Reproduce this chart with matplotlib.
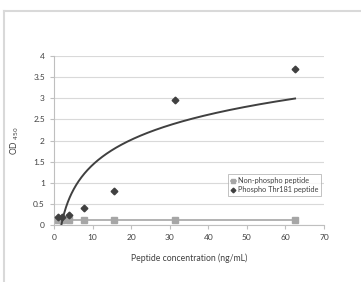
import numpy as np
import matplotlib
matplotlib.use("Agg")
import matplotlib.pyplot as plt
from matplotlib.lines import Line2D

conc = [0.98, 1.95, 3.9, 7.8, 15.6, 31.25, 62.5]
non_phospho = [0.11, 0.11, 0.11, 0.11, 0.11, 0.11, 0.11]
phospho = [0.18, 0.19, 0.24, 0.41, 0.80, 2.96, 3.69]

plt.rcParams['font.family'] = ['Lato', 'DejaVu Sans']
txt = '#404040'

fig = plt.figure(figsize=(3.61, 2.82), dpi=100)
fig.patch.set_facecolor('white')
ax = fig.add_axes([54/361, 1-225/282, 270/361, 169/282])

# frame lines of the image
fig.add_artist(Line2D([4/361, 1], [1-11/282, 1-11/282], color='#d9d9d9', lw=1.5, transform=fig.transFigure))
fig.add_artist(Line2D([4/361, 4/361], [1-11/282, 0], color='#d9d9d9', lw=1.5, transform=fig.transFigure))

ax.plot(conc, non_phospho, color='#a6a6a6', lw=1.2, marker='s', ms=4.3,
        mfc='#a6a6a6', mec='#a6a6a6', label='Non-phospho peptide', zorder=3)
ax.plot(conc, phospho, ls='none', marker='D', ms=3.4, color='#404040',
        label='Phospho Thr181 peptide', zorder=4)

# logarithmic trendline fitted to the phospho data
a, b = np.polyfit(np.log(conc), phospho, 1)
xs = np.linspace(min(conc), max(conc), 400)
ax.plot(xs, a*np.log(xs)+b, color='#404040', lw=1.4, zorder=5)

ax.set_xlim(0, 70)
ax.set_ylim(0, 4)
ax.set_xticks(range(0, 71, 10))
ax.set_yticks([0, 0.5, 1, 1.5, 2, 2.5, 3, 3.5, 4])
ax.set_yticklabels(['0', '0.5', '1', '1.5', '2', '2.5', '3', '3.5', '4'])
ax.yaxis.grid(True, color='#d9d9d9', lw=0.8)
ax.set_axisbelow(True)
for s in ['top', 'right']:
    ax.spines[s].set_visible(False)
for s in ['left', 'bottom']:
    ax.spines[s].set_color('#bfbfbf')
    ax.spines[s].set_linewidth(0.8)
ax.tick_params(axis='both', labelsize=6, colors='#bfbfbf', labelcolor=txt, length=3, width=0.8)
ax.tick_params(axis='x', direction='out')
ax.set_xlabel('Peptide concentration (ng/mL)', fontsize=6.2, color=txt, labelpad=9)
ax.set_ylabel(r'OD $_{450}$', fontsize=6.2, color=txt, labelpad=9)

leg = ax.legend(loc='lower right', bbox_to_anchor=(0.99, 0.17), fontsize=5.3,
                frameon=True, fancybox=False, handlelength=0.6, handletextpad=0.3,
                borderpad=0.4, labelspacing=0.3, borderaxespad=0, markerscale=0.7)
leg.get_frame().set_edgecolor('#a6a6a6')
leg.get_frame().set_linewidth(0.6)
for t in leg.get_texts():
    t.set_color(txt)

fig.savefig('out.png', dpi=100, facecolor='white')
